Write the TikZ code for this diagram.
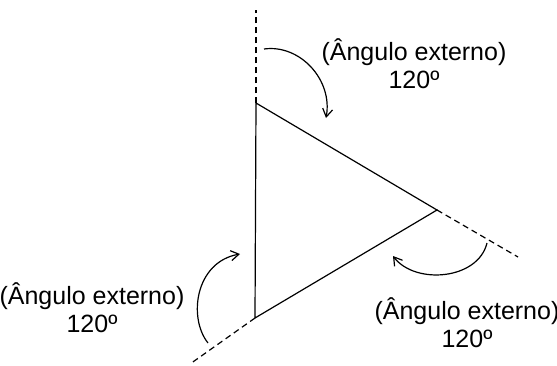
\documentclass[tikz,border=0pt]{standalone}
\usepackage{fontspec}
\setmainfont{Liberation Sans}
\usetikzlibrary{arrows.meta}

\begin{document}
\begin{tikzpicture}[
  x=0.5pt, y=-0.5pt,
  font=\fontsize{12.5}{14}\selectfont, >={Straight Barb[length=4pt,width=5pt]},
  side/.style={line width=0.6pt,black},
  ext/.style={line width=0.6pt,black,dash pattern=on 3pt off 2pt},
  turn/.style={->,line width=0.6pt,black},
  lab/.style={align=center,inner sep=0pt},
]
\useasboundingbox (0,0) rectangle (557,365);

% vertices and free ends
\coordinate (vA) at (256,103);
\coordinate (vB) at (437,210);
\coordinate (vC) at (255,318);
\coordinate (eA) at (256,10);
\coordinate (eB) at (518,257);
\coordinate (eC) at (190,364);

\draw[side] (vA) -- (vB) -- (vC) -- cycle;
\draw[ext] (vA) -- (eA);
\draw[ext] (vB) -- (eB);
\draw[ext] (vC) -- (eC);

% arcs of the exterior angles
\coordinate (sA) at (264,49);  \coordinate (tA) at (326,118);
\coordinate (sB) at (487,243); \coordinate (tB) at (393,256);
\coordinate (sC) at (208,343); \coordinate (tC) at (240,254);
\draw[turn] (sA) .. controls (300,44) and (333,80) .. (tA);
\draw[turn] (sB) .. controls (478,280) and (415,285) .. (tB);
\draw[turn] (sC) .. controls (188,318) and (195,262) .. (tC);

\node[lab] (labA) at (414,64)  {(Ângulo externo)\\120º};
\node[lab] (labB) at (467,323) {(Ângulo externo)\\120º};
\node[lab] (labC) at (92,308)  {(Ângulo externo)\\120º};
\end{tikzpicture}
\end{document}
